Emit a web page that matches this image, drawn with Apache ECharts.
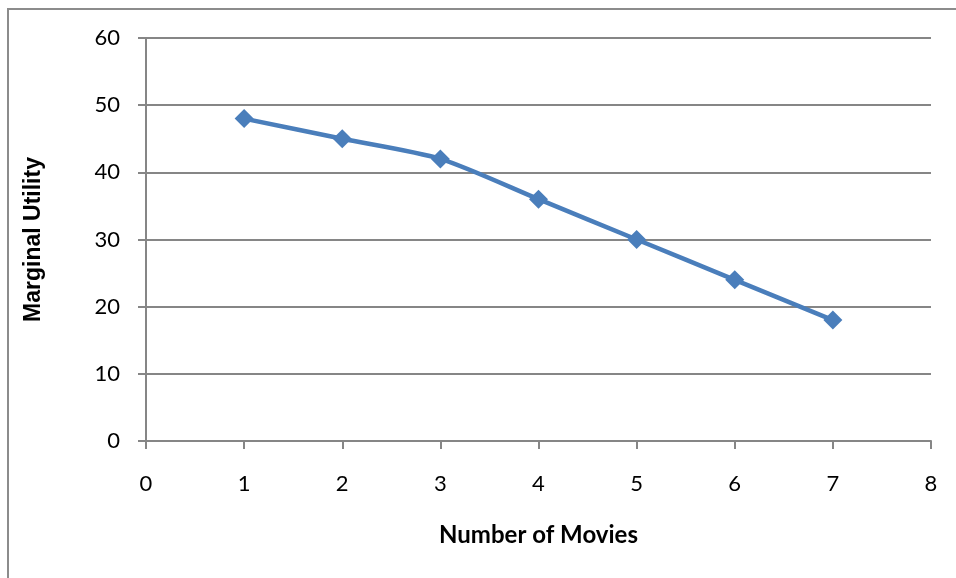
<!DOCTYPE html>
<html>
<head>
<meta charset="utf-8">
<script src="https://cdn.jsdelivr.net/npm/echarts@6/dist/echarts.min.js"></script>
<style>
  html, body { margin: 0; padding: 0; background: #ffffff; }
  #chart { width: 956px; height: 578px; }
</style>
</head>
<body>
<div id="chart"></div>
<script>
// Number of movies watched and the marginal utility of each one
const movies = [1, 2, 3, 4, 5, 6, 7];
const marginalUtility = [48, 45, 42, 36, 30, 24, 18];

const xTitle = 'Number of Movies';
const yTitle = 'Marginal Utility';

const points = movies.map((m, i) => [m, marginalUtility[i]]);

const chart = echarts.init(document.getElementById('chart'));
const axisGray = '#868686';
const labelFont = 'Lato, "Open Sans", sans-serif';

chart.setOption({
  animation: false,
  backgroundColor: '#ffffff',
  graphic: [{
    type: 'rect',
    shape: { x: 8, y: 9, width: 1000, height: 700 },
    style: { fill: 'none', stroke: '#8c8c8c', lineWidth: 2 },
    silent: true
  }],
  grid: { left: 146, right: 25, top: 38, bottom: 137 },
  xAxis: {
    type: 'value',
    min: 0, max: 8, interval: 1,
    name: xTitle,
    nameLocation: 'middle',
    nameGap: 82,
    nameTextStyle: { fontFamily: labelFont, fontWeight: 'bold', fontSize: 24, color: '#000' },
    axisLine: { show: true, lineStyle: { color: axisGray, width: 2 } },
    axisTick: { show: true, length: 8, lineStyle: { color: axisGray, width: 2 } },
    axisLabel: { margin: 32, fontFamily: labelFont, fontSize: 22, color: '#000' },
    splitLine: { show: false }
  },
  yAxis: {
    type: 'value',
    min: 0, max: 60, interval: 10,
    name: yTitle,
    nameLocation: 'middle',
    nameGap: 101,
    nameRotate: 90,
    nameTextStyle: { fontFamily: '"Liberation Sans", Arial, sans-serif', fontWeight: 'bold', fontSize: 23, color: '#000' },
    axisLine: { show: true, lineStyle: { color: axisGray, width: 2 } },
    axisTick: { show: true, length: 8, lineStyle: { color: axisGray, width: 2 } },
    axisLabel: { margin: 26, fontFamily: labelFont, fontSize: 22, color: '#000' },
    splitLine: { show: true, lineStyle: { color: axisGray, width: 2 } }
  },
  series: [{
    type: 'line',
    data: points,
    smooth: 0.25,
    symbol: 'diamond',
    symbolSize: 19,
    lineStyle: { color: '#4a7ebb', width: 4.5 },
    itemStyle: { color: '#4a7ebb' }
  }]
});
</script>
</body>
</html>
